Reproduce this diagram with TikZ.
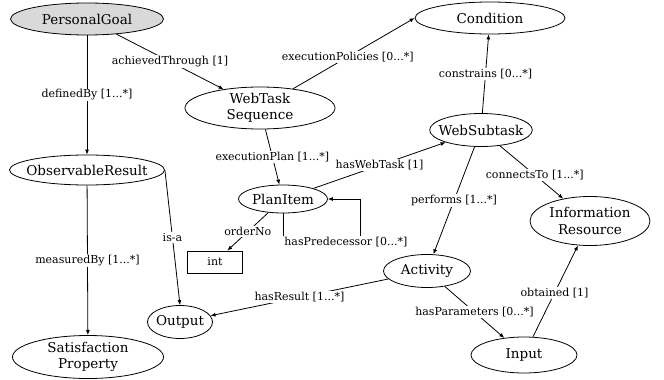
\documentclass[tikz,border=0pt]{standalone}
\usepackage{fontspec}
\setmainfont{DejaVu Serif}
\usetikzlibrary{shapes.geometric, arrows.meta}

\begin{document}
\begin{tikzpicture}[x=1pt, y=-1pt, line width=0.8pt,
    cls/.style={ellipse, draw, inner xsep=-6pt, inner ysep=-2pt, align=center, font=\fontsize{13.5}{16.5}\selectfont},
    lbl/.style={fill=white, inner sep=1pt, font=\fontsize{11}{13}\selectfont},
    arr/.style={-{Latex[length=5pt, width=4pt]}}]
    \useasboundingbox (0,0) rectangle (664,380);

    % --- Classes ---
    \node[cls, fill=gray!30, minimum width=153, minimum height=32] (goal) at (87,19) {PersonalGoal};
    \node[cls, minimum width=150, minimum height=32] (cond) at (490,18) {Condition};
    \node[cls, minimum width=150, minimum height=42] (wts) at (260,108) {WebTask\\Sequence};
    \node[cls, minimum width=155, minimum height=30] (obs) at (87,170) {ObservableResult};
    \node[cls, minimum width=98, minimum height=33] (sub) at (481,130) {WebSubtask};
    \node[cls, minimum width=89, minimum height=28] (plan) at (283,199) {PlanItem};
    \node[draw, minimum width=55, minimum height=22, inner sep=0pt, font=\fontsize{11}{13}\selectfont] (int) at (215,262) {int};
    \node[cls, minimum width=120, minimum height=49] (res) at (590,221) {Information\\Resource};
    \node[cls, minimum width=87, minimum height=33] (act) at (427,271) {Activity};
    \node[cls, minimum width=65, minimum height=33] (out) at (180,322) {Output};
    \node[cls, minimum width=151, minimum height=43] (sat) at (88,357) {Satisfaction\\Property};
    \node[cls, minimum width=106, minimum height=36] (in) at (524,355) {Input};

    % --- Properties ---
    \draw[arr] (goal) -- node[lbl] {definedBy [1...*]} (obs);
    \draw[arr] (goal) -- node[lbl] {achievedThrough [1]} (wts);
    \draw[arr] (wts) -- node[lbl, pos=0.45] {executionPolicies [0...*]} (cond.west);
    \draw[arr] (sub) -- node[lbl] {constrains [0...*]} (cond);
    \draw[arr] (wts) -- node[lbl] {executionPlan [1...*]} (plan);
    \draw[arr] (plan) -- node[lbl] {hasWebTask [1]} (sub);
    \draw[arr] (plan) -- node[lbl] {orderNo} (int);
    \draw[arr] (plan.south) -- ++(0,29) node[lbl, anchor=west] {hasPredecessor [0...*]}
        -| ([xshift=32pt]plan.east) -- (plan.east);
    \draw[arr] (sub) -- node[lbl] {performs [1...*]} (act);
    \draw[arr] (sub) -- node[lbl, pos=0.55] {connectsTo [1...*]} (res);
    \draw[arr] (act) -- node[lbl] {hasResult [1...*]} (out);
    \draw[arr] (act) -- node[lbl] {hasParameters [0...*]} (in);
    \draw[arr] (in) -- node[lbl, pos=0.48] {obtained [1]} (res);
    \draw[arr] (obs) -- node[lbl] {measuredBy [1...*]} (sat);
    \draw[arr] (obs.east) -- node[lbl] {is-a} (out.north);
\end{tikzpicture}
\end{document}
